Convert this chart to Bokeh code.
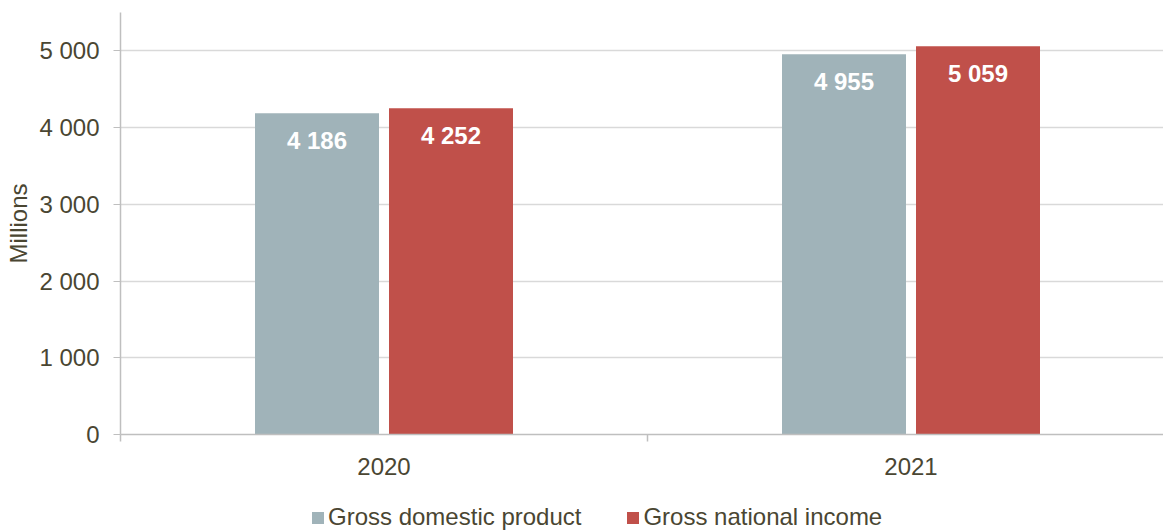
from bokeh.plotting import figure
from bokeh.layouts import column
from bokeh.models import FixedTicker, Legend, LegendItem, Range1d, ColumnDataSource
from bokeh.core.properties import value
from bokeh.embed import file_html
from bokeh.resources import INLINE

categories = ["2020", "2021"]
gdp = [4186, 4955]
gni = [4252, 5059]
series_names = ["Gross domestic product", "Gross national income"]
y_ticks = [0, 1000, 2000, 3000, 4000, 5000]
y_tick_labels = ["0", "1 000", "2 000", "3 000", "4 000", "5 000"]

FONT = "Liberation Sans"
TXT = "#4a4632"
C_GDP = "#a0b3b9"
C_GNI = "#c0504a"

def fmt(v):
    return f"{v:,}".replace(",", " ")

p = figure(width=1163, height=480, output_backend="svg", toolbar_location=None,
           x_range=Range1d(0, 1043 / 527), y_range=Range1d(0, 5500),
           min_border_left=120, min_border_right=0, min_border_top=12, min_border_bottom=46)
p.outline_line_color = None
p.background_fill_color = "white"
p.border_fill_color = "white"

centers = [i + 0.5 for i in range(len(categories))]
off = 67 / 527
bw = 124 / 527
src_gdp = ColumnDataSource(dict(x=[c - off for c in centers], top=gdp, lab=[fmt(v) for v in gdp]))
src_gni = ColumnDataSource(dict(x=[c + off for c in centers], top=gni, lab=[fmt(v) for v in gni]))

r1 = p.vbar(x="x", top="top", width=bw, bottom=0, source=src_gdp, fill_color=C_GDP, line_color=None)
r2 = p.vbar(x="x", top="top", width=bw, bottom=0, source=src_gni, fill_color=C_GNI, line_color=None)

for s in (src_gdp, src_gni):
    p.text(x="x", y="top", text="lab", source=s, y_offset=27, text_align="center",
           text_baseline="middle", text_color="white", text_font=value(FONT),
           text_font_size="24px", text_font_style="bold")

# y axis
p.yaxis.ticker = FixedTicker(ticks=y_ticks)
p.yaxis.major_label_overrides = {t: l for t, l in zip(y_ticks, y_tick_labels)}
p.yaxis.axis_label = "Millions"
p.yaxis.axis_label_text_font = FONT
p.yaxis.axis_label_text_font_size = "24px"
p.yaxis.axis_label_text_font_style = "normal"
p.yaxis.axis_label_text_color = TXT
p.yaxis.axis_label_standoff = 4
p.yaxis.major_label_text_font = FONT
p.yaxis.major_label_text_font_size = "24px"
p.yaxis.major_label_text_color = TXT
p.yaxis.major_label_standoff = 14
p.yaxis.axis_line_color = "#bfbfbf"
p.yaxis.axis_line_width = 1.5
p.yaxis.major_tick_line_color = "#bfbfbf"
p.yaxis.major_tick_out = 7
p.yaxis.major_tick_in = 0
p.yaxis.minor_tick_line_color = None

# x axis
p.xaxis.ticker = FixedTicker(ticks=centers, minor_ticks=[0, 1, 2])
p.xaxis.major_label_overrides = {c: l for c, l in zip(centers, categories)}
p.xaxis.major_label_text_font = FONT
p.xaxis.major_label_text_font_size = "24px"
p.xaxis.major_label_text_color = TXT
p.xaxis.major_label_standoff = 16
p.xaxis.major_tick_line_color = None
p.xaxis.major_tick_out = 0
p.xaxis.major_tick_in = 0
p.xaxis.minor_tick_line_color = "#bfbfbf"
p.xaxis.minor_tick_line_width = 1.5
p.xaxis.minor_tick_out = 7
p.xaxis.minor_tick_in = 0
p.xaxis.axis_line_color = "#bfbfbf"
p.xaxis.axis_line_width = 1.5

p.xgrid.grid_line_color = None
p.ygrid.ticker = FixedTicker(ticks=y_ticks)
p.ygrid.grid_line_color = "#d9d9d9"
p.ygrid.grid_line_width = 1.5

# legend strip below the chart (frame aligned with the chart's frame)
pl = figure(width=1163, height=51, output_backend="svg", toolbar_location=None,
            x_range=Range1d(0, 1), y_range=Range1d(0, 1),
            x_axis_type=None, y_axis_type=None,
            min_border_left=120, min_border_right=0, min_border_top=0, min_border_bottom=0)
pl.outline_line_color = None
pl.grid.visible = False
pl.background_fill_color = "white"
pl.border_fill_color = "white"
l1 = pl.vbar(x=[0], top=[0], bottom=0, width=0, fill_color=C_GDP, line_color=None)
l2 = pl.vbar(x=[0], top=[0], bottom=0, width=0, fill_color=C_GNI, line_color=None)
legend = Legend(items=[LegendItem(label=series_names[0], renderers=[l1]),
                       LegendItem(label=series_names[1], renderers=[l2])],
                orientation="horizontal", location=(190, 0),
                label_text_font=FONT, label_text_font_size="24px", label_text_color=TXT,
                glyph_width=15, glyph_height=15, label_standoff=3, spacing=44,
                padding=0, margin=0, border_line_color=None, background_fill_alpha=0)
pl.add_layout(legend, "center")

layout = column(p, pl, spacing=0)
open("out.html", "w").write(file_html(layout, INLINE))
